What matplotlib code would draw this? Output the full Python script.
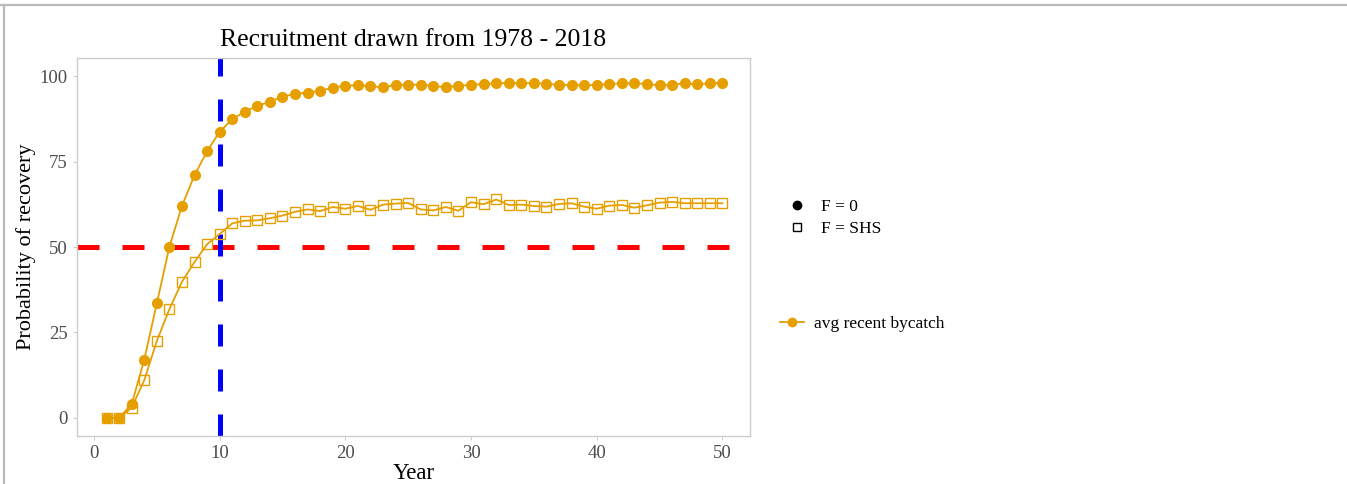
import numpy as np
import matplotlib
matplotlib.use("Agg")
import matplotlib.pyplot as plt
from matplotlib.lines import Line2D

plt.rcParams['font.family'] = ['Liberation Serif', 'DejaVu Serif']

# data
years = list(range(1, 51))
f0 = [0, 0, 4, 17, 33.5, 50, 62, 71, 78, 83.7,
      87.4, 89.6, 91.3, 92.5, 94, 94.8, 95.2, 95.7, 96.6, 97.2,
      97.3, 97.1, 96.7, 97.4, 97.5, 97.5, 97.2, 96.7, 97.2, 97.4,
      97.7, 97.9, 98, 98, 97.9, 97.8, 97.4, 97.4, 97.3, 97.4,
      97.7, 97.9, 97.9, 97.7, 97.3, 97.5, 97.9, 97.6, 97.9, 98.1]
fshs = [0, 0, 3, 11, 22.5, 31.8, 39.8, 45.6, 50.8, 53.8,
        56.9, 57.7, 57.8, 58.4, 59.2, 60.3, 61, 60.5, 61.7, 61.2,
        62, 60.9, 62.4, 62.7, 62.9, 61, 60.7, 61.7, 60.6, 63.1,
        62.5, 63.9, 62.3, 62.4, 62, 61.8, 62.6, 62.8, 61.8, 61.2,
        62.1, 62.3, 61.5, 62.2, 63, 63.2, 62.8, 62.8, 62.8, 62.8]
hline_y = 50
vline_x = 10

orange = '#E69F00'
tick_col = '#4D4D4D'

fig = plt.figure(figsize=(13.47, 4.84), dpi=100)
ax = fig.add_axes([77/1347, 1 - 436/484, (750-77)/1347, (436-58)/484])

ax.axhline(hline_y, color='#FF0000', lw=3.6, dashes=(4.4, 4.6), zorder=1)
ax.axvline(vline_x, color='#0000FF', lw=3.6, dashes=(4.4, 4.6), zorder=1)

ax.plot(years, f0, color=orange, lw=1.3, marker='o', ms=7, mfc=orange, mec=orange, zorder=3)
ax.plot(years, fshs, color=orange, lw=1.3, marker='s', ms=7, mfc='none', mec=orange, mew=1.0, zorder=3)

ax.set_xlim(-1.35, 52.2)
ax.set_ylim(-5.3, 105.3)
ax.set_xticks([0, 10, 20, 30, 40, 50])
ax.set_yticks([0, 25, 50, 75, 100])
for s in ax.spines.values():
    s.set_color('#CCCCCC')
    s.set_linewidth(1.0)
ax.tick_params(colors='#CCCCCC', labelcolor=tick_col, labelsize=13.5, length=3)

ax.set_title('Recruitment drawn from 1978 - 2018', fontsize=18.5, pad=9)
ax.set_xlabel('Year', fontsize=16.5, labelpad=1)
ax.set_ylabel('Probability of recovery', fontsize=16, labelpad=3)

h1 = [Line2D([], [], ls='none', marker='o', color='black', ms=6),
      Line2D([], [], ls='none', marker='s', mfc='none', mec='black', ms=6, mew=1.0)]
fig.legend(h1, ['F = 0', 'F = SHS'], loc='upper left',
           bbox_to_anchor=(771/1347, 1 - 183/484), frameon=False,
           fontsize=12.5, handlelength=1.2, handletextpad=0.8, labelspacing=0.35)
h2 = [Line2D([], [], color=orange, lw=1.3, marker='o', ms=6)]
fig.legend(h2, ['avg recent bycatch'], loc='upper left',
           bbox_to_anchor=(764/1347, 1 - 300/484), frameon=False,
           fontsize=12.5, handlelength=1.4, handletextpad=0.6)

# light gray frame from the original screenshot
fig.add_artist(Line2D([0, 1], [1 - 4.5/484, 1 - 4.5/484], color='#BBBBBB', lw=1.6, transform=fig.transFigure))
fig.add_artist(Line2D([3.5/1347, 3.5/1347], [0, 1 - 4.5/484], color='#BBBBBB', lw=1.6, transform=fig.transFigure))

fig.savefig('out.png', dpi=100)
